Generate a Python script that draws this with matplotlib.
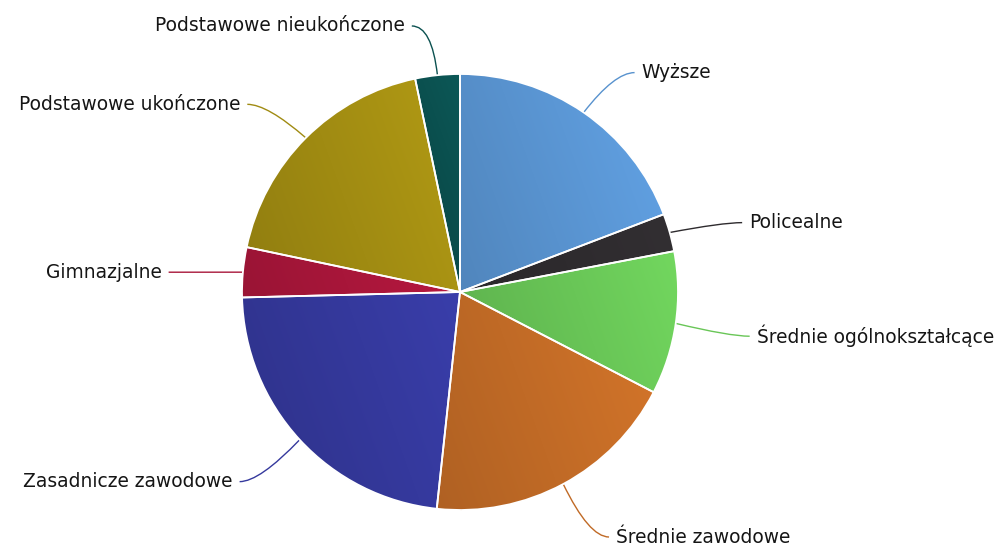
import numpy as np
import matplotlib
matplotlib.use("Agg")
import matplotlib.pyplot as plt
from matplotlib.path import Path
from matplotlib.patches import PathPatch, Wedge
from matplotlib.colors import to_rgb

categories = ["Wyższe", "Policealne", "Średnie ogólnokształcące", "Średnie zawodowe",
              "Zasadnicze zawodowe", "Gimnazjalne", "Podstawowe ukończone",
              "Podstawowe nieukończone"]
values = [19.2, 2.8, 10.6, 19.1, 22.9, 3.7, 18.4, 3.3]
colors = ["#5892ce", "#2e2b2e", "#69c657", "#c06a26", "#35399d", "#a8163a",
          "#a08b12", "#0b5150"]

W, H = 999, 545
fig = plt.figure(figsize=(W / 100, H / 100), dpi=100)
fig.patch.set_facecolor("white")
cx, cy, R = 460, 292, 218
ax = fig.add_axes([(cx - R) / W, (H - cy - R) / H, 2 * R / W, 2 * R / H])
ax.axis("off")

wedges, _ = ax.pie(values, colors=colors, startangle=90, counterclock=False, radius=1,
                   wedgeprops=dict(edgecolor="none", linewidth=0),
                   center=(0, 0), frame=False)
ax.set_xlim(-1, 1)
ax.set_ylim(-1, 1)
ax.set_aspect("auto")

# subtle linear gradient inside each slice (darker lower-left, lighter upper-right)
n = 500
xs = np.linspace(-1, 1, n)
X, Y = np.meshgrid(xs, xs[::-1])
a = np.deg2rad(20)
P = X * np.cos(a) + Y * np.sin(a)
ang = (np.degrees(np.arctan2(Y, X))) % 360
rr = np.hypot(X, Y)
k = 0.085
for w, col in zip(wedges, colors):
    t1, t2 = w.theta1 % 360, w.theta2 % 360
    if t1 <= t2:
        m = (ang >= t1) & (ang <= t2)
    else:
        m = (ang >= t1) | (ang <= t2)
    m &= rr <= 1
    pv = P[m]
    pmin, pmax = pv.min(), pv.max()
    T = np.clip(2 * (P - pmin) / max(pmax - pmin, 1e-6) - 1, -1, 1)
    base = np.array(to_rgb(col))
    img = np.clip(base[None, None, :] * (1 + k * T[..., None]), 0, 1)
    im = ax.imshow(img, extent=(-1, 1, -1, 1), origin="upper", zorder=2,
                   interpolation="bilinear", aspect="auto")
    im.set_clip_path(w)

for w in wedges:
    ax.add_patch(Wedge(w.center, w.r, w.theta1, w.theta2, facecolor="none",
                       edgecolor="white", linewidth=1.3, zorder=3))

px = 1.0 / R  # one pixel in data units
for w, lab, col in zip(wedges, categories, colors):
    mid = np.deg2rad((w.theta1 + w.theta2) / 2)
    ex, ey = np.cos(mid), np.sin(mid)
    rl = 1.25
    mx, my = rl * ex, rl * ey - 5 * px
    side = 1 if ex >= 0 else -1
    endx = mx + side * 20 * px
    verts = [(ex, ey), (mx, my), (endx, my)]
    path = Path(verts, [Path.MOVETO, Path.CURVE3, Path.CURVE3])
    ax.add_patch(PathPatch(path, facecolor="none", edgecolor=col, lw=1.0,
                           clip_on=False, zorder=1))
    tx = mx + side * 27 * px
    ax.text(tx, my, lab, ha="left" if side > 0 else "right", va="center",
            fontsize=13.4, color="#151515", family="DejaVu Sans", clip_on=False)

fig.savefig("out.png", dpi=100, facecolor="white")
